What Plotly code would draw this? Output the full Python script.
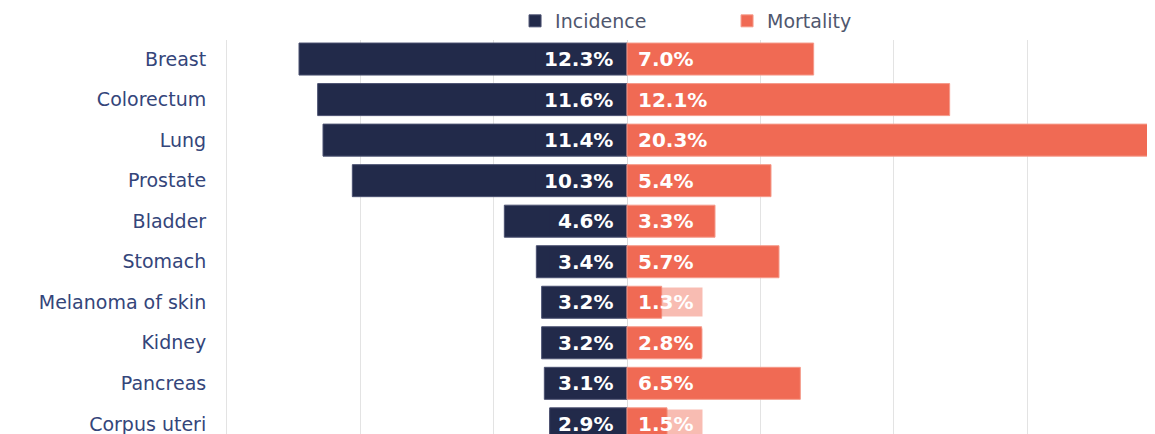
import plotly.graph_objects as go

categories = ["Breast", "Colorectum", "Lung", "Prostate", "Bladder", "Stomach",
              "Melanoma of skin", "Kidney", "Pancreas", "Corpus uteri"]
incidence = [12.3, 11.6, 11.4, 10.3, 4.6, 3.4, 3.2, 3.2, 3.1, 2.9]
mortality = [7.0, 12.1, 20.3, 5.4, 3.3, 5.7, 1.3, 2.8, 6.5, 1.5]

NAVY = "#222a4a"
SALMON = "#f06a54"

fig = go.Figure()
fig.add_trace(go.Bar(
    y=categories, x=[-v for v in incidence], orientation="h", name="Incidence",
    marker=dict(color=NAVY, line=dict(color="#4a5070", width=1)),
    hoverinfo="skip",
))
fig.add_trace(go.Bar(
    y=categories, x=mortality, orientation="h", name="Mortality",
    marker=dict(color=SALMON, line=dict(color="#f59a8a", width=1)),
    hoverinfo="skip",
))

label_font = dict(family="DejaVu Sans", size=20, color="white", weight="bold")
for cat, inc, mor in zip(categories, incidence, mortality):
    fig.add_annotation(x=0, y=cat, text=f" {inc:.1f}% ", showarrow=False,
                       xanchor="right", xshift=-5, font=label_font,
                       bgcolor="rgba(34,42,74,0.4)", borderpad=1)
    fig.add_annotation(x=0, y=cat, text=f" {mor:.1f}% ", showarrow=False,
                       xanchor="left", xshift=1, font=label_font,
                       bgcolor="rgba(240,106,84,0.45)", borderpad=2)

fig.update_layout(
    width=1155, height=426,
    margin=dict(l=219, r=0, t=32, b=0),
    paper_bgcolor="white", plot_bgcolor="white",
    barmode="overlay", bargap=0.21,
    showlegend=True,
    legend=dict(orientation="h", xref="container", yref="container",
                x=0.439, y=0.9695, xanchor="left", yanchor="middle",
                font=dict(family="DejaVu Sans", size=19, color="#50576e"),
                entrywidth=167, entrywidthmode="pixels",
                itemwidth=30, tracegroupgap=0),
    xaxis=dict(range=[-15, 20.1], dtick=5, tick0=0, showticklabels=False,
               showgrid=True, gridcolor="#e3e3e3", gridwidth=1,
               zeroline=True, zerolinecolor="#dcdcdc", zerolinewidth=1,
               fixedrange=True),
    yaxis=dict(categoryorder="array", categoryarray=categories,
               range=[9.25, -0.47], showgrid=False, zeroline=False,
               showline=True, linecolor="#e3e3e3", linewidth=1,
               ticks="", ticklabelstandoff=16,
               tickfont=dict(family="DejaVu Sans", size=19, color="#34457a")),
)

fig.write_html("out.html",
               post_script="document.body.style.overflow='hidden';")
